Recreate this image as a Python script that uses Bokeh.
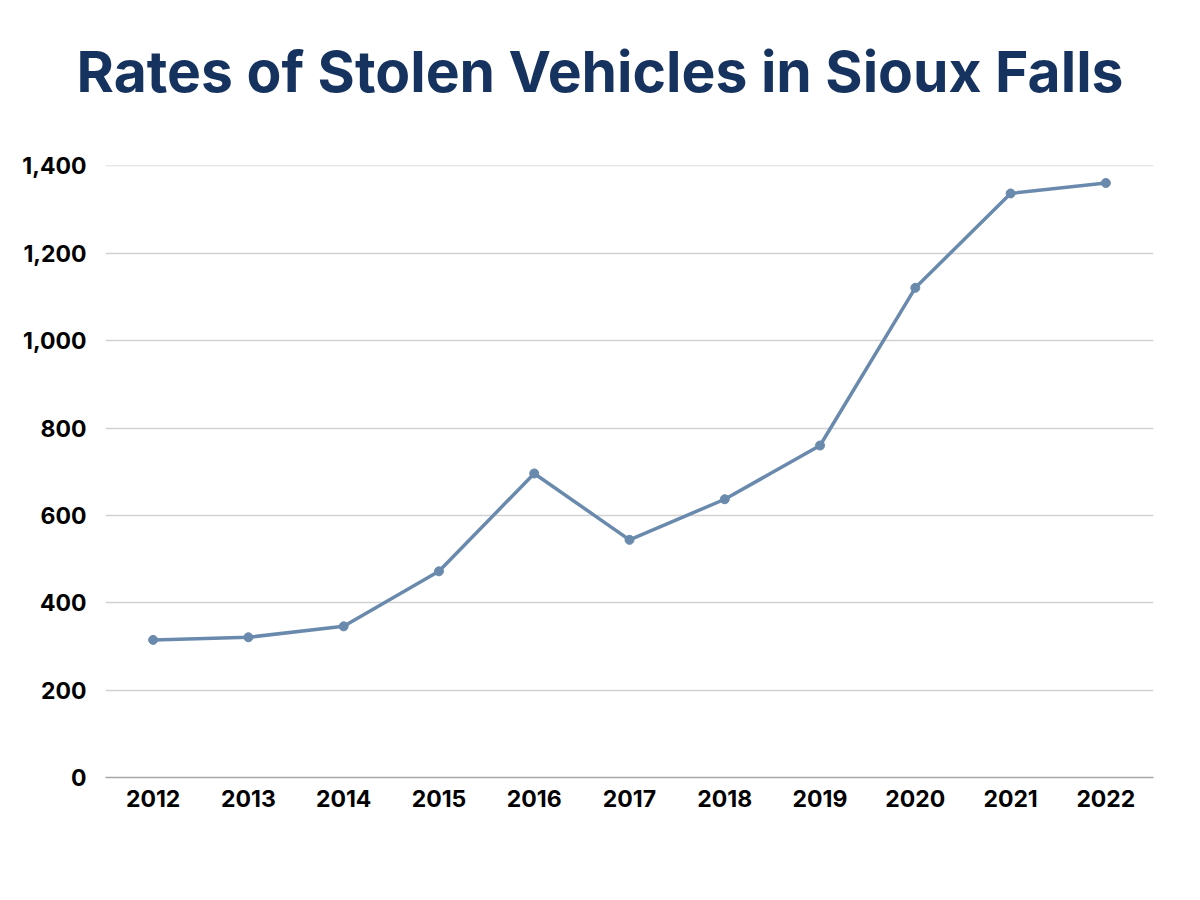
from bokeh.plotting import figure
from bokeh.models import FactorRange, Range1d, NumeralTickFormatter, FixedTicker, Title
from bokeh.embed import file_html
from bokeh.resources import INLINE

years = ["2012", "2013", "2014", "2015", "2016", "2017", "2018", "2019", "2020", "2021", "2022"]
stolen = [315, 321, 346, 472, 696, 544, 637, 760, 1121, 1337, 1361]
y_ticks = [0, 200, 400, 600, 800, 1000, 1200, 1400]
title_text = "Rates of Stolen Vehicles in Sioux Falls"

FONT = "Inter"
LINE_COLOR = "#6a8aad"

p = figure(
    width=1184, height=884,
    x_range=FactorRange(factors=years, range_padding=0),
    y_range=Range1d(0, 1401),
    output_backend="svg", toolbar_location=None,
    min_border_left=105, min_border_right=31,
    min_border_top=165, min_border_bottom=107,
)
p.outline_line_color = None
p.background_fill_color = "white"
p.border_fill_color = "white"
p.title.text = ""

# blank spacer between the title and the plot area
spacer = Title(text=" ", text_font_size="10px", standoff=47)
p.add_layout(spacer, "above")

t = Title(text=title_text, align="left", text_font=FONT, text_font_style="bold",
          text_font_size="57px", text_color="#16335f", standoff=0, offset=-29)
p.add_layout(t, "above")

p.line(years, stolen, line_color=LINE_COLOR, line_width=3.5)
p.scatter(years, stolen, size=9, fill_color=LINE_COLOR, line_color=LINE_COLOR)

p.xgrid.grid_line_color = None
p.ygrid.grid_line_color = "#d2d2d2"
p.ygrid.grid_line_width = 1.5

p.yaxis.ticker = FixedTicker(ticks=y_ticks)
p.yaxis.formatter = NumeralTickFormatter(format="0,0")
p.yaxis.axis_line_color = None
p.yaxis.major_tick_line_color = None
p.yaxis.minor_tick_line_color = None
p.yaxis.major_label_standoff = 13
p.yaxis.major_label_text_font = FONT
p.yaxis.major_label_text_font_style = "bold"
p.yaxis.major_label_text_font_size = "23px"
p.yaxis.major_label_text_color = "black"

p.xaxis.axis_line_color = "#a6a6a6"
p.xaxis.axis_line_width = 1.5
p.xaxis.major_tick_line_color = None
p.xaxis.minor_tick_line_color = None
p.xaxis.major_label_standoff = 6
p.xaxis.major_label_text_font = FONT
p.xaxis.major_label_text_font_style = "bold"
p.xaxis.major_label_text_font_size = "23px"
p.xaxis.major_label_text_color = "black"

open("out.html", "w").write(file_html(p, INLINE))
